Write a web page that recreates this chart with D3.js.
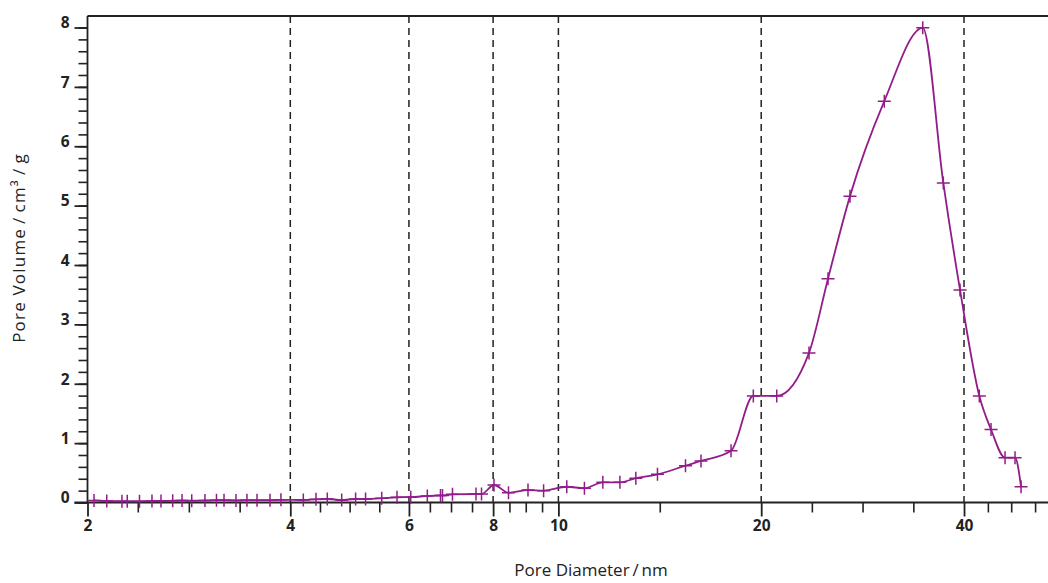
<!DOCTYPE html>
<html><head><meta charset="utf-8">
<script src="https://cdn.jsdelivr.net/npm/d3@7/dist/d3.min.js"></script>
<style>
html,body{margin:0;padding:0;background:#fff;}
svg{display:block;}
.tick text{font-family:"Open Sans","Noto Sans",sans-serif;font-weight:700;font-size:15.5px;fill:#222;}
</style></head>
<body>
<svg id="chart" width="1048" height="583"></svg>
<script>
// Pore diameter (nm)
const diameters = [
  2.045, 2.136, 2.250, 2.291, 2.389, 2.493, 2.571, 2.676, 2.763, 2.856, 2.988, 3.108, 3.189, 3.322, 3.449, 3.570, 3.732, 3.874,
  4.182, 4.367, 4.539, 4.768, 5.000, 5.173, 5.467, 5.760, 6.037, 6.389, 6.683, 6.729, 6.963, 7.546, 7.689, 8.024, 8.432, 9.013, 9.507,
  10.29, 10.93, 11.64, 12.34, 13.03, 14.03, 15.44, 16.28, 18.04, 19.47, 21.09, 23.55, 25.13, 27.09, 30.46, 34.74, 37.27, 39.46,
  42.15, 43.87, 46.02, 47.62, 48.61
];
// Pore volume (cm3/g)
const volumes = [
  0.035, 0.025, 0.020, 0.020, 0.020, 0.025, 0.025, 0.030, 0.035, 0.030, 0.035, 0.040, 0.040, 0.035, 0.040, 0.040, 0.040, 0.045,
  0.042, 0.054, 0.059, 0.042, 0.059, 0.059, 0.070, 0.088, 0.090, 0.110, 0.120, 0.120, 0.138, 0.143, 0.143, 0.295, 0.165, 0.210, 0.200,
  0.265, 0.240, 0.340, 0.340, 0.410, 0.475, 0.620, 0.700, 0.870, 1.795, 1.795, 2.520, 3.770, 5.160, 6.760, 7.995, 5.380, 3.580,
  1.795, 1.230, 0.755, 0.755, 0.266
];
const xMajorTicks = [2, 4, 6, 8, 10, 20, 40];
const xMinorTicks = [2.375, 2.828, 3.364, 4.427, 4.899, 5.422, 6.445, 6.928, 7.444, 8.459, 8.944, 9.457, 14.14, 23.78, 28.28, 33.64, 43.4, 47.0, 51.0];
const yMajorTicks = [0, 1, 2, 3, 4, 5, 6, 7, 8];
const yMinorTicks = d3.range(0, 8.19, 0.2).map(v => +v.toFixed(1));
const gridLines = [4, 6, 8, 10, 20, 40];
const xLabel = "Pore Diameter\u2009/\u2009nm";
const yLabel = "Pore Volume\u2009/\u2009cm³\u2009/\u2009g";

(function () {
const svg = d3.select("#chart");
const L = 87.5, R = 1048, T = 16, B = 502.5;
const x = d3.scaleLog().domain([2, 53.3]).range([L, R]);
const y = d3.scaleLinear().domain([0, 8]).range([B, 27.5]);
const ink = "#222";
const purple = "#921c8a";

// dashed vertical reference lines
svg.append("g").selectAll("line").data(gridLines).join("line")
  .attr("x1", d => x(d)).attr("x2", d => x(d))
  .attr("y1", T).attr("y2", B)
  .attr("stroke", ink).attr("stroke-width", 1.5).attr("stroke-dasharray", "7,5");

// top frame line
svg.append("line").attr("x1", L).attr("x2", R).attr("y1", T).attr("y2", T)
  .attr("stroke", ink).attr("stroke-width", 1.8);

// minor axes
const yMinor = svg.append("g").attr("transform", `translate(${L},0)`)
  .call(d3.axisLeft(y).tickValues(yMinorTicks).tickSize(9).tickFormat(""));
const xMinor = svg.append("g").attr("transform", `translate(0,${B})`)
  .call(d3.axisBottom(x).tickValues(xMinorTicks).tickSize(10).tickFormat(""));
[yMinor, xMinor].forEach(g => { g.select(".domain").remove(); g.selectAll("line").attr("stroke", ink).attr("stroke-width", 1.6); });

// major axes
const yAxis = svg.append("g").attr("transform", `translate(${L},0)`)
  .call(d3.axisLeft(y).tickValues(yMajorTicks).tickSize(13).tickPadding(5).tickFormat(d3.format("d")));
yAxis.select(".domain").attr("d", `M0,${T}V${B}`);
yAxis.selectAll("text").attr("dy", "0.02em");
const xAxis = svg.append("g").attr("transform", `translate(0,${B})`)
  .call(d3.axisBottom(x).tickValues(xMajorTicks).tickSize(14).tickPadding(3).tickFormat(d3.format("d")));
xAxis.select(".domain").attr("d", `M${L - 13},0H${R}`);
[yAxis, xAxis].forEach(g => {
  g.select(".domain").attr("stroke", ink).attr("stroke-width", 1.8);
  g.selectAll("line").attr("stroke", ink).attr("stroke-width", 1.8);
});

// data line
const pts = diameters.map((d, i) => [d, volumes[i]]);
svg.append("path").datum(pts)
  .attr("fill", "none").attr("stroke", purple).attr("stroke-width", 1.8)
  .attr("d", d3.line().x(d => x(d[0])).y(d => y(d[1])).curve(d3.curveMonotoneX));

// plus markers
const m = 6.5;
svg.append("g").selectAll("path").data(pts).join("path")
  .attr("d", d => {
    const px = x(d[0]), py = y(d[1]);
    return `M${px - m},${py}H${px + m}M${px},${py - m}V${py + m}`;
  })
  .attr("stroke", purple).attr("stroke-width", 1.5).attr("fill", "none");

// axis titles
svg.append("text").attr("x", 591).attr("y", 576)
  .attr("text-anchor", "middle")
  .style("font-family", '"Open Sans","Noto Sans",sans-serif').style("font-size", "17px").style("fill", ink)
  .text(xLabel);
svg.append("text").attr("transform", "translate(25,248) rotate(-90)")
  .attr("text-anchor", "middle")
  .style("font-family", '"Open Sans","Noto Sans",sans-serif').style("font-size", "17px")
  .style("letter-spacing", "1.2px").style("fill", ink)
  .text(yLabel);
})();
</script>
</body></html>
